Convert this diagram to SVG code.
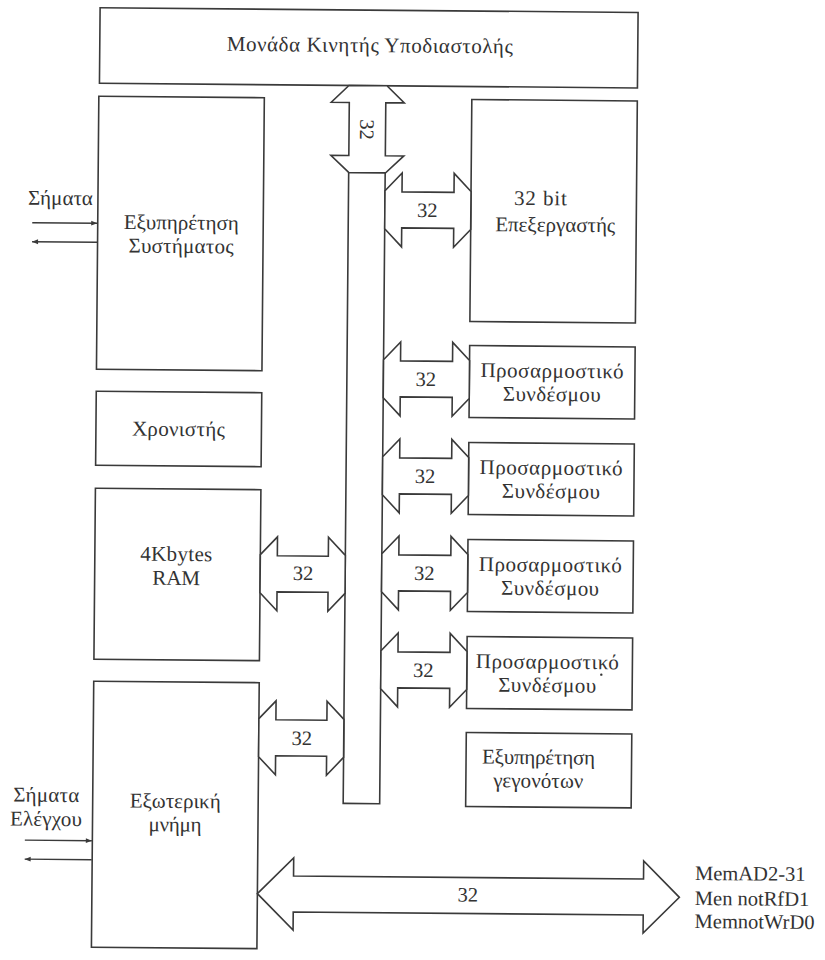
<svg xmlns="http://www.w3.org/2000/svg" width="825" height="960" viewBox="0 0 825 960">
  <defs>
    <style>
      .box { fill: none; stroke: #3a3a3a; stroke-width: 1.6; }
      .bus { fill: #ffffff; stroke: #3a3a3a; stroke-width: 1.6; stroke-linejoin: miter; }
      .sig { fill: none; stroke: #3a3a3a; stroke-width: 1.4; }
      .lbl { font-family: "Liberation Serif", "DejaVu Serif", serif; font-size: 21px; fill: #333333; }
      .num { font-family: "Liberation Serif", "DejaVu Serif", serif; font-size: 20.5px; fill: #333333; }
    </style>
    <marker id="tip" viewBox="0 0 10 10" refX="10" refY="5" markerWidth="8" markerHeight="6" markerUnits="userSpaceOnUse" orient="auto">
      <path d="M0,1 L10,5 L0,9 Z" fill="#3a3a3a"/>
    </marker>
  </defs>
  <rect width="825" height="960" fill="#ffffff"/>

  <!-- whole drawing sits slightly tilted -->
  <g transform="rotate(0.5 412 480)">

    <!-- units -->
    <g id="fpu" text-anchor="middle">
      <rect class="box" x="96" y="10.5" width="538" height="75.5"/>
      <text class="lbl" x="366" y="52.5" textLength="286" lengthAdjust="spacing">Μονάδα Κινητής Υποδιαστολής</text>
    </g>

    <g id="system-service" text-anchor="middle">
      <rect class="box" x="95.5" y="99" width="165.5" height="273"/>
      <text class="lbl" x="179" y="231.5" textLength="115" lengthAdjust="spacing">Εξυπηρέτηση</text>
      <text class="lbl" x="179" y="255" textLength="105" lengthAdjust="spacing">Συστήματος</text>
    </g>

    <g id="timer" text-anchor="middle">
      <rect class="box" x="95.5" y="394" width="165.5" height="74"/>
      <text class="lbl" x="178" y="438" textLength="93" lengthAdjust="spacing">Χρονιστής</text>
    </g>

    <g id="ram" text-anchor="middle">
      <rect class="box" x="95.5" y="491" width="165.5" height="171"/>
      <text class="lbl" x="177" y="563" textLength="72" lengthAdjust="spacing">4Kbytes</text>
      <text class="lbl" x="177" y="587">RAM</text>
    </g>

    <g id="external-memory" text-anchor="middle">
      <rect class="box" x="95.5" y="684" width="165.5" height="266"/>
      <text class="lbl" x="178" y="810" textLength="91" lengthAdjust="spacing">Εξωτερική</text>
      <text class="lbl" x="178" y="833.5" textLength="53" lengthAdjust="spacing">μνήμη</text>
    </g>

    <g id="cpu" text-anchor="middle">
      <rect class="box" x="468.5" y="99" width="165.5" height="222"/>
      <text class="lbl" x="538" y="204" textLength="53" lengthAdjust="spacing">32 bit</text>
      <text class="lbl" x="553" y="230.5" textLength="120" lengthAdjust="spacing">Επεξεργαστής</text>
    </g>

    <g id="link-1" text-anchor="middle">
      <rect class="box" x="468.5" y="345" width="165.5" height="72"/>
      <text class="lbl" x="551" y="376.5" textLength="143" lengthAdjust="spacing">Προσαρμοστικό</text>
      <text class="lbl" x="551" y="400" textLength="98" lengthAdjust="spacing">Συνδέσμου</text>
    </g>

    <g id="link-2" text-anchor="middle">
      <rect class="box" x="468.5" y="442" width="165.5" height="72"/>
      <text class="lbl" x="551" y="473.5" textLength="143" lengthAdjust="spacing">Προσαρμοστικό</text>
      <text class="lbl" x="551" y="497" textLength="98" lengthAdjust="spacing">Συνδέσμου</text>
    </g>

    <g id="link-3" text-anchor="middle">
      <rect class="box" x="468.5" y="539" width="165.5" height="72"/>
      <text class="lbl" x="551" y="570.5" textLength="143" lengthAdjust="spacing">Προσαρμοστικό</text>
      <text class="lbl" x="551" y="594" textLength="98" lengthAdjust="spacing">Συνδέσμου</text>
    </g>

    <g id="link-4" text-anchor="middle">
      <rect class="box" x="468.5" y="636" width="165.5" height="72"/>
      <text class="lbl" x="549" y="667.5" textLength="143" lengthAdjust="spacing">Προσαρμοστικό</text>
      <text class="lbl" x="549" y="691" textLength="98" lengthAdjust="spacing">Συνδέσμου</text>
      <circle cx="603" cy="673" r="1.2" fill="#333333"/>
    </g>

    <g id="event-service" text-anchor="middle">
      <rect class="box" x="468.5" y="732" width="165.5" height="74"/>
      <text class="lbl" x="541" y="763" textLength="113" lengthAdjust="spacing">Εξυπηρέτηση</text>
      <text class="lbl" x="541" y="786.5" textLength="90" lengthAdjust="spacing">γεγονότων</text>
    </g>

    <!-- buses and signal lines -->
    <g id="connectors" text-anchor="middle">
      <!-- main vertical bus -->
      <rect class="bus" x="346" y="173" width="36.5" height="631"/>

      <!-- FPU <-> bus -->
      <path class="bus" d="M345.5,86 L383.5,86 L401,103 L382.5,103 L382.5,156 L401,156 L383,173 L346,173 L328,156 L346,156 L346,103 L328,103 Z"/>
      <text class="num" transform="translate(364,130) rotate(90)" y="7">32</text>

      <!-- bus <-> CPU -->
      <path class="bus" d="M382.5,191 L399.5,173 L399.5,192 L451.5,192 L451.5,173 L468.5,191 L468.5,229 L451.5,247 L451.5,228 L399.5,228 L399.5,247 L382.5,229 Z"/>
      <text class="num" x="425" y="217">32</text>

      <!-- bus <-> link adapters -->
      <path class="bus" d="M382.5,360 L399.5,342 L399.5,361 L451.5,361 L451.5,342 L468.5,360 L468.5,398 L451.5,416 L451.5,397 L399.5,397 L399.5,416 L382.5,398 Z"/>
      <text class="num" x="425" y="386">32</text>
      <path class="bus" d="M382.5,457 L399.5,439 L399.5,458 L451.5,458 L451.5,439 L468.5,457 L468.5,495 L451.5,513 L451.5,494 L399.5,494 L399.5,513 L382.5,495 Z"/>
      <text class="num" x="425" y="483">32</text>
      <path class="bus" d="M382.5,554 L399.5,536 L399.5,555 L451.5,555 L451.5,536 L468.5,554 L468.5,592 L451.5,610 L451.5,591 L399.5,591 L399.5,610 L382.5,592 Z"/>
      <text class="num" x="425" y="580">32</text>
      <path class="bus" d="M382.5,651 L399.5,633 L399.5,652 L451.5,652 L451.5,633 L468.5,651 L468.5,689 L451.5,707 L451.5,688 L399.5,688 L399.5,707 L382.5,689 Z"/>
      <text class="num" x="425" y="677">32</text>

      <!-- RAM <-> bus -->
      <path class="bus" d="M261,556 L278,538 L278,557 L329,557 L329,538 L346,556 L346,594 L329,612 L329,593 L278,593 L278,612 L261,594 Z"/>
      <text class="num" x="304" y="581">32</text>

      <!-- external memory <-> bus -->
      <path class="bus" d="M261,720 L278,702 L278,721 L329,721 L329,702 L346,720 L346,758 L329,776 L329,757 L278,757 L278,776 L261,758 Z"/>
      <text class="num" x="304" y="746">32</text>

      <!-- external memory bus -->
      <path class="bus" d="M261,895 L297,859 L297,877 L647,877 L647,859 L683,895 L647,931 L647,913 L297,913 L297,931 Z"/>
      <text class="num" x="471.5" y="901">32</text>

      <!-- system signals -->
      <line class="sig" x1="30" y1="226" x2="95" y2="226" marker-end="url(#tip)"/>
      <line class="sig" x1="95" y1="245" x2="30" y2="245" marker-end="url(#tip)"/>

      <!-- control signals -->
      <line class="sig" x1="28" y1="843.5" x2="95" y2="843.5" marker-end="url(#tip)"/>
      <line class="sig" x1="95" y1="862.5" x2="28" y2="862.5" marker-end="url(#tip)"/>
    </g>

    <!-- signal labels -->
    <g id="labels">
      <text class="lbl" x="58" y="208" text-anchor="middle" textLength="65" lengthAdjust="spacing">Σήματα</text>
      <text class="lbl" x="49" y="805" text-anchor="middle" textLength="66" lengthAdjust="spacing">Σήματα</text>
      <text class="lbl" x="49" y="829" text-anchor="middle" textLength="72" lengthAdjust="spacing">Ελέγχου</text>
      <text class="num" x="698.5" y="877.5">MemAD2-31</text>
      <text class="num" x="698.5" y="902.5">Men notRfD1</text>
      <text class="num" x="698.5" y="925.5">MemnotWrD0</text>
    </g>
  </g>
</svg>
